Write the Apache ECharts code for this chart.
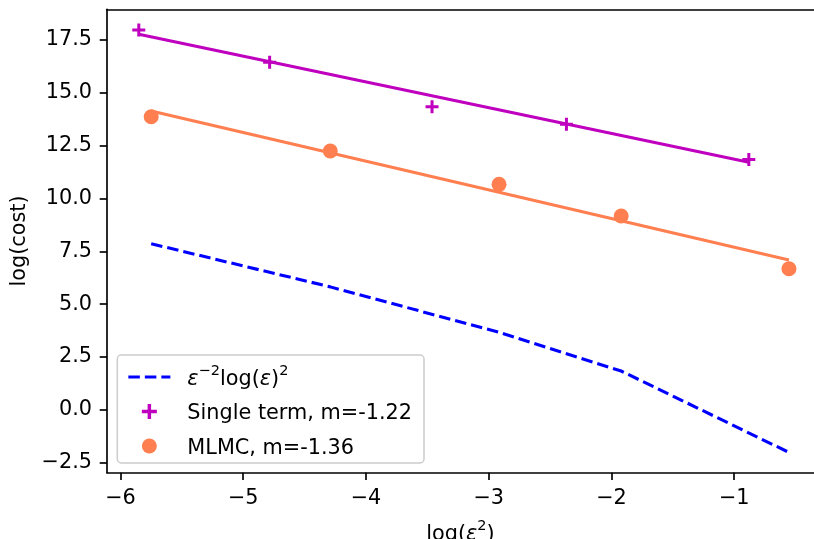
<!DOCTYPE html>
<html>
<head>
<meta charset="utf-8">
<script src="https://cdn.jsdelivr.net/npm/echarts@6/dist/echarts.min.js"></script>
<style>
  html, body { margin: 0; padding: 0; background: #fff; }
  #main { width: 814px; height: 539px; }
</style>
</head>
<body>
<div id="main"></div>
<script>
// values
let xSingle = [-5.851, -4.785, -3.462, -2.367, -0.881];
let ySingle = [17.97, 16.44, 14.34, 13.51, 11.85];
let xMlmc = [-5.750, -4.291, -2.916, -1.921, -0.554];
let yMlmc = [13.87, 12.25, 10.67, 9.17, 6.68];
let yRef = [7.86, 5.82, 3.67, 1.84, -2.01];
// fitted lines, value at first and last x
let singleFit = [17.77, 11.71];
let mlmcFit = [14.14, 7.09];

let xTicks = [-6, -5, -4, -3, -2, -1];
let yTicks = [-2.5, 0, 2.5, 5, 7.5, 10, 12.5, 15, 17.5];

let names = ['ref', 'Single term, m=-1.22', 'MLMC, m=-1.36'];

let font = 'DejaVu Sans';
let fs = 20.8;
let plusPath = 'path://M5,0h3v5h5v3h-5v5h-3v-5h-5v-3h5z';

function pairs(xs, ys) {
    let out = [];
    for (let i = 0; i < xs.length; i++) out.push([xs[i], ys[i]]);
    return out;
}
function minus(s) { return String(s).replace('-', '\u2212'); }

let rich = {
    g: { width: 12, fontSize: fs, lineHeight: 26 },
    n: { fontFamily: font, fontSize: fs, color: '#000', lineHeight: 26, verticalAlign: 'bottom' },
    e: { fontFamily: font, fontSize: fs, fontStyle: 'italic', color: '#000', lineHeight: 26, verticalAlign: 'bottom' },
    s: { fontFamily: font, fontSize: 14.5, color: '#000', lineHeight: 26, verticalAlign: 'top' }
};

let myChart = echarts.init(document.getElementById('main'));

let axisLineStyle = { color: '#000', width: 1.67 };

let option = {
    animation: false,
    backgroundColor: '#fff',
    grid: {
        left: 107, top: 9.3, right: 0, bottom: 66.3,
        outerBoundsMode: 'none'
    },
    xAxis: [{
        type: 'value',
        min: -6.11, max: -0.35,
        splitLine: { show: false },
        axisLine: { show: true, onZero: false, lineStyle: axisLineStyle },
        axisTick: { show: true, length: 7.3, lineStyle: axisLineStyle, customValues: xTicks },
        axisLabel: {
            customValues: xTicks, margin: 15, color: '#000', fontFamily: font, fontSize: fs,
            formatter: function (v) { return minus(v); }
        },
        name: '{n|log(}{e|ε}{s|2}{n|)}',
        nameLocation: 'middle',
        nameGap: 46,
        nameTextStyle: { rich: rich }
    }, {
        // top spine only
        type: 'value',
        position: 'top',
        min: -6.11, max: -0.35,
        splitLine: { show: false },
        axisLine: { show: true, onZero: false, lineStyle: axisLineStyle },
        axisTick: { show: false },
        axisLabel: { show: false }
    }],
    yAxis: {
        type: 'value',
        min: -2.97, max: 18.95,
        splitLine: { show: false },
        axisLine: { show: true, onZero: false, lineStyle: axisLineStyle },
        axisTick: { show: true, length: 7.3, lineStyle: axisLineStyle, customValues: yTicks },
        axisLabel: {
            customValues: yTicks, margin: 15, color: '#000', fontFamily: font, fontSize: fs,
            formatter: function (v) { return minus(v.toFixed(1)); }
        },
        name: 'log(cost)',
        nameLocation: 'middle',
        nameGap: 68,
        nameTextStyle: { color: '#000', fontFamily: font, fontSize: fs }
    },
    legend: {
        orient: 'vertical',
        left: 117.3, top: 355,
        padding: [9, 12, 4, 9.5],
        itemGap: 11,
        itemWidth: 42,
        itemHeight: 15,
        borderColor: '#cccccc',
        borderWidth: 1.5,
        borderRadius: 4,
        backgroundColor: 'rgba(255,255,255,0.8)',
        selectedMode: false,
        data: [
            { name: names[0], itemStyle: { opacity: 0, color: 'transparent' },
              lineStyle: { color: '#0000ff', width: 3.1, type: [11.5, 5], opacity: 1 } },
            { name: names[1], icon: plusPath, itemStyle: { color: '#bf00bf' } },
            { name: names[2], icon: 'circle', itemStyle: { color: '#ff7f50' } }
        ],
        formatter: function (name) {
            if (name === names[0]) return '{g| }{e|ε}{s|−2}{n|log(}{e|ε}{n|)}{s|2}';
            return '{g| }{n|' + name + '}';
        },
        textStyle: { rich: rich }
    },
    series: [
        {
            name: names[0],
            type: 'line',
            data: pairs(xMlmc, yRef),
            symbol: 'none',
            lineStyle: { color: '#0000ff', width: 3.1, type: [11.5, 5] },
            z: 2
        },
        {
            name: 'singleFit',
            type: 'line',
            data: pairs([xSingle[0], xSingle[xSingle.length - 1]], singleFit),
            symbol: 'none',
            lineStyle: { color: '#bf00bf', width: 3.1 },
            z: 2
        },
        {
            name: 'mlmcFit',
            type: 'line',
            data: pairs([xMlmc[0], xMlmc[xMlmc.length - 1]], mlmcFit),
            symbol: 'none',
            lineStyle: { color: '#ff7f50', width: 3.1 },
            z: 2
        },
        {
            name: names[1],
            type: 'scatter',
            data: pairs(xSingle, ySingle),
            symbol: plusPath,
            symbolSize: 13,
            itemStyle: { color: '#bf00bf', opacity: 1 },
            z: 3
        },
        {
            name: names[2],
            type: 'scatter',
            data: pairs(xMlmc, yMlmc),
            symbol: 'circle',
            symbolSize: 15,
            itemStyle: { color: '#ff7f50', opacity: 1 },
            z: 3
        }
    ]
};

myChart.setOption(option);
</script>
</body>
</html>
